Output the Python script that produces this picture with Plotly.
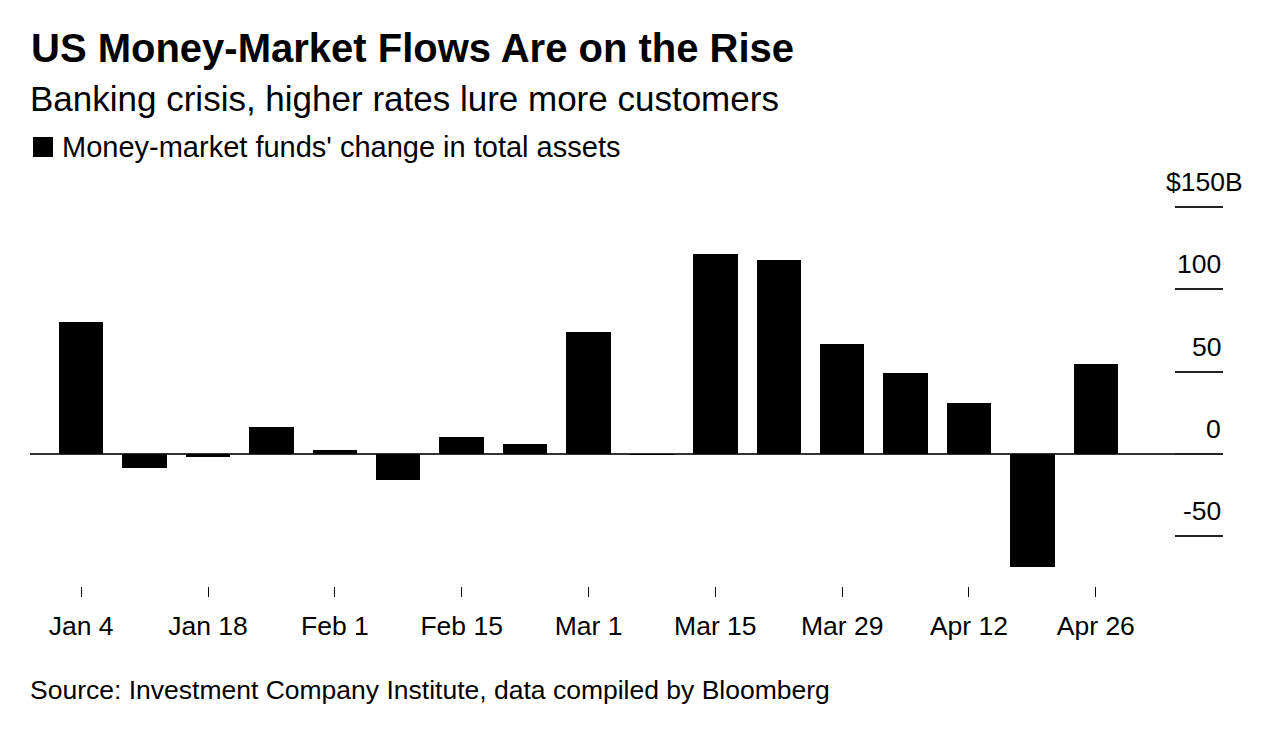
import plotly.graph_objects as go
import pandas as pd

# ---- data ----
weeks = ["2023-01-04", "2023-01-11", "2023-01-18", "2023-01-25", "2023-02-01",
         "2023-02-08", "2023-02-15", "2023-02-22", "2023-03-01", "2023-03-08",
         "2023-03-15", "2023-03-22", "2023-03-29", "2023-04-05", "2023-04-12",
         "2023-04-19", "2023-04-26"]
change_bn = [79.8, -8.5, -1.6, 16.5, 2.6, -15.8, 10.5, 5.8, 74.0, -0.6,
             121.4, 117.9, 66.6, 49.4, 30.8, -68.4, 54.4]
x_tick_dates = ["2023-01-04", "2023-01-18", "2023-02-01", "2023-02-15", "2023-03-01",
                "2023-03-15", "2023-03-29", "2023-04-12", "2023-04-26"]
x_tick_labels = ["Jan 4", "Jan 18", "Feb 1", "Feb 15", "Mar 1",
                 "Mar 15", "Mar 29", "Apr 12", "Apr 26"]
y_tick_vals = [-50, 0, 50, 100, 150]
y_tick_labels = ["-50", "0", "50", "100", "$150B"]

title = "US Money-Market Flows Are on the Rise"
subtitle = "Banking crisis, higher rates lure more customers"
legend_text = "Money-market funds' change in total assets"
source = "Source: Investment Company Institute, data compiled by Bloomberg"

# ---- layout geometry (pixels) ----
W, H = 1280, 747
L, R, T, B = 30, 57, 204, 161
PW, PH = W - L - R, H - T - B
FONT = "Liberation Sans, Arial, sans-serif"


def px(xp):
    return (xp - L) / PW


def py(yp):
    return 1 - (yp - T) / PH


DAY = 86400000
x_start = pd.Timestamp(weeks[0]) - pd.Timedelta(days=5.65)
x_end = pd.Timestamp(weeks[-1]) + pd.Timedelta(days=14.04)

fig = go.Figure()
fig.add_trace(go.Bar(
    x=pd.to_datetime(weeks), y=change_bn,
    marker=dict(color="#000000", line=dict(width=0)),
    width=4.91 * DAY, showlegend=False,
))

annotations = [
    dict(text="<b>" + title + "</b>", x=px(29), y=py(48), xref="paper", yref="paper",
         xanchor="left", yanchor="middle", showarrow=False,
         font=dict(family=FONT, size=40, color="#000")),
    dict(text=subtitle, x=px(28), y=py(98), xref="paper", yref="paper",
         xanchor="left", yanchor="middle", showarrow=False,
         font=dict(family=FONT, size=35, color="#000")),
    dict(text=legend_text, x=px(60), y=py(147), xref="paper", yref="paper",
         xanchor="left", yanchor="middle", showarrow=False,
         font=dict(family=FONT, size=29, color="#000")),
    dict(text=source, x=px(28), y=py(690), xref="paper", yref="paper",
         xanchor="left", yanchor="middle", showarrow=False,
         font=dict(family=FONT, size=26.5, color="#000")),
]
for v, lab in zip(y_tick_vals, y_tick_labels):
    annotations.append(dict(
        text=lab, x=1, y=v, xref="paper", yref="y",
        xanchor="right", yanchor="bottom", showarrow=False,
        xshift=(22 if lab.endswith("B") else 0), yshift=8,
        font=dict(family=FONT, size=26.5, color="#000"),
    ))

fig.update_layout(
    width=W, height=H,
    margin=dict(l=L, r=R, t=T, b=B, autoexpand=False),
    paper_bgcolor="white", plot_bgcolor="white",
    showlegend=False,
    annotations=annotations,
    shapes=[dict(type="rect", xref="paper", yref="paper",
                 x0=px(33), x1=px(53), y0=py(157), y1=py(137),
                 fillcolor="#000", line=dict(width=0))],
    xaxis=dict(type="date", range=[x_start, x_end],
               tickvals=pd.to_datetime(x_tick_dates), ticktext=x_tick_labels,
               ticks="outside", ticklen=10, tickwidth=1, tickcolor="#000",
               showgrid=False, showline=False, zeroline=False,
               ticklabelstandoff=6,
               tickfont=dict(family=FONT, size=26.5, color="#000")),
    yaxis=dict(side="right", range=[-80.1, 151.7],
               tickvals=y_tick_vals, showticklabels=False,
               ticks="inside", ticklen=48, tickwidth=1.5, tickcolor="#222",
               showgrid=False, showline=False,
               zeroline=True, zerolinecolor="#333", zerolinewidth=1.5),
    bargap=0,
)

fig.write_html("out.html",
               config={"displayModeBar": False},
               post_script="document.body.style.margin='0';document.body.style.padding='0';")
